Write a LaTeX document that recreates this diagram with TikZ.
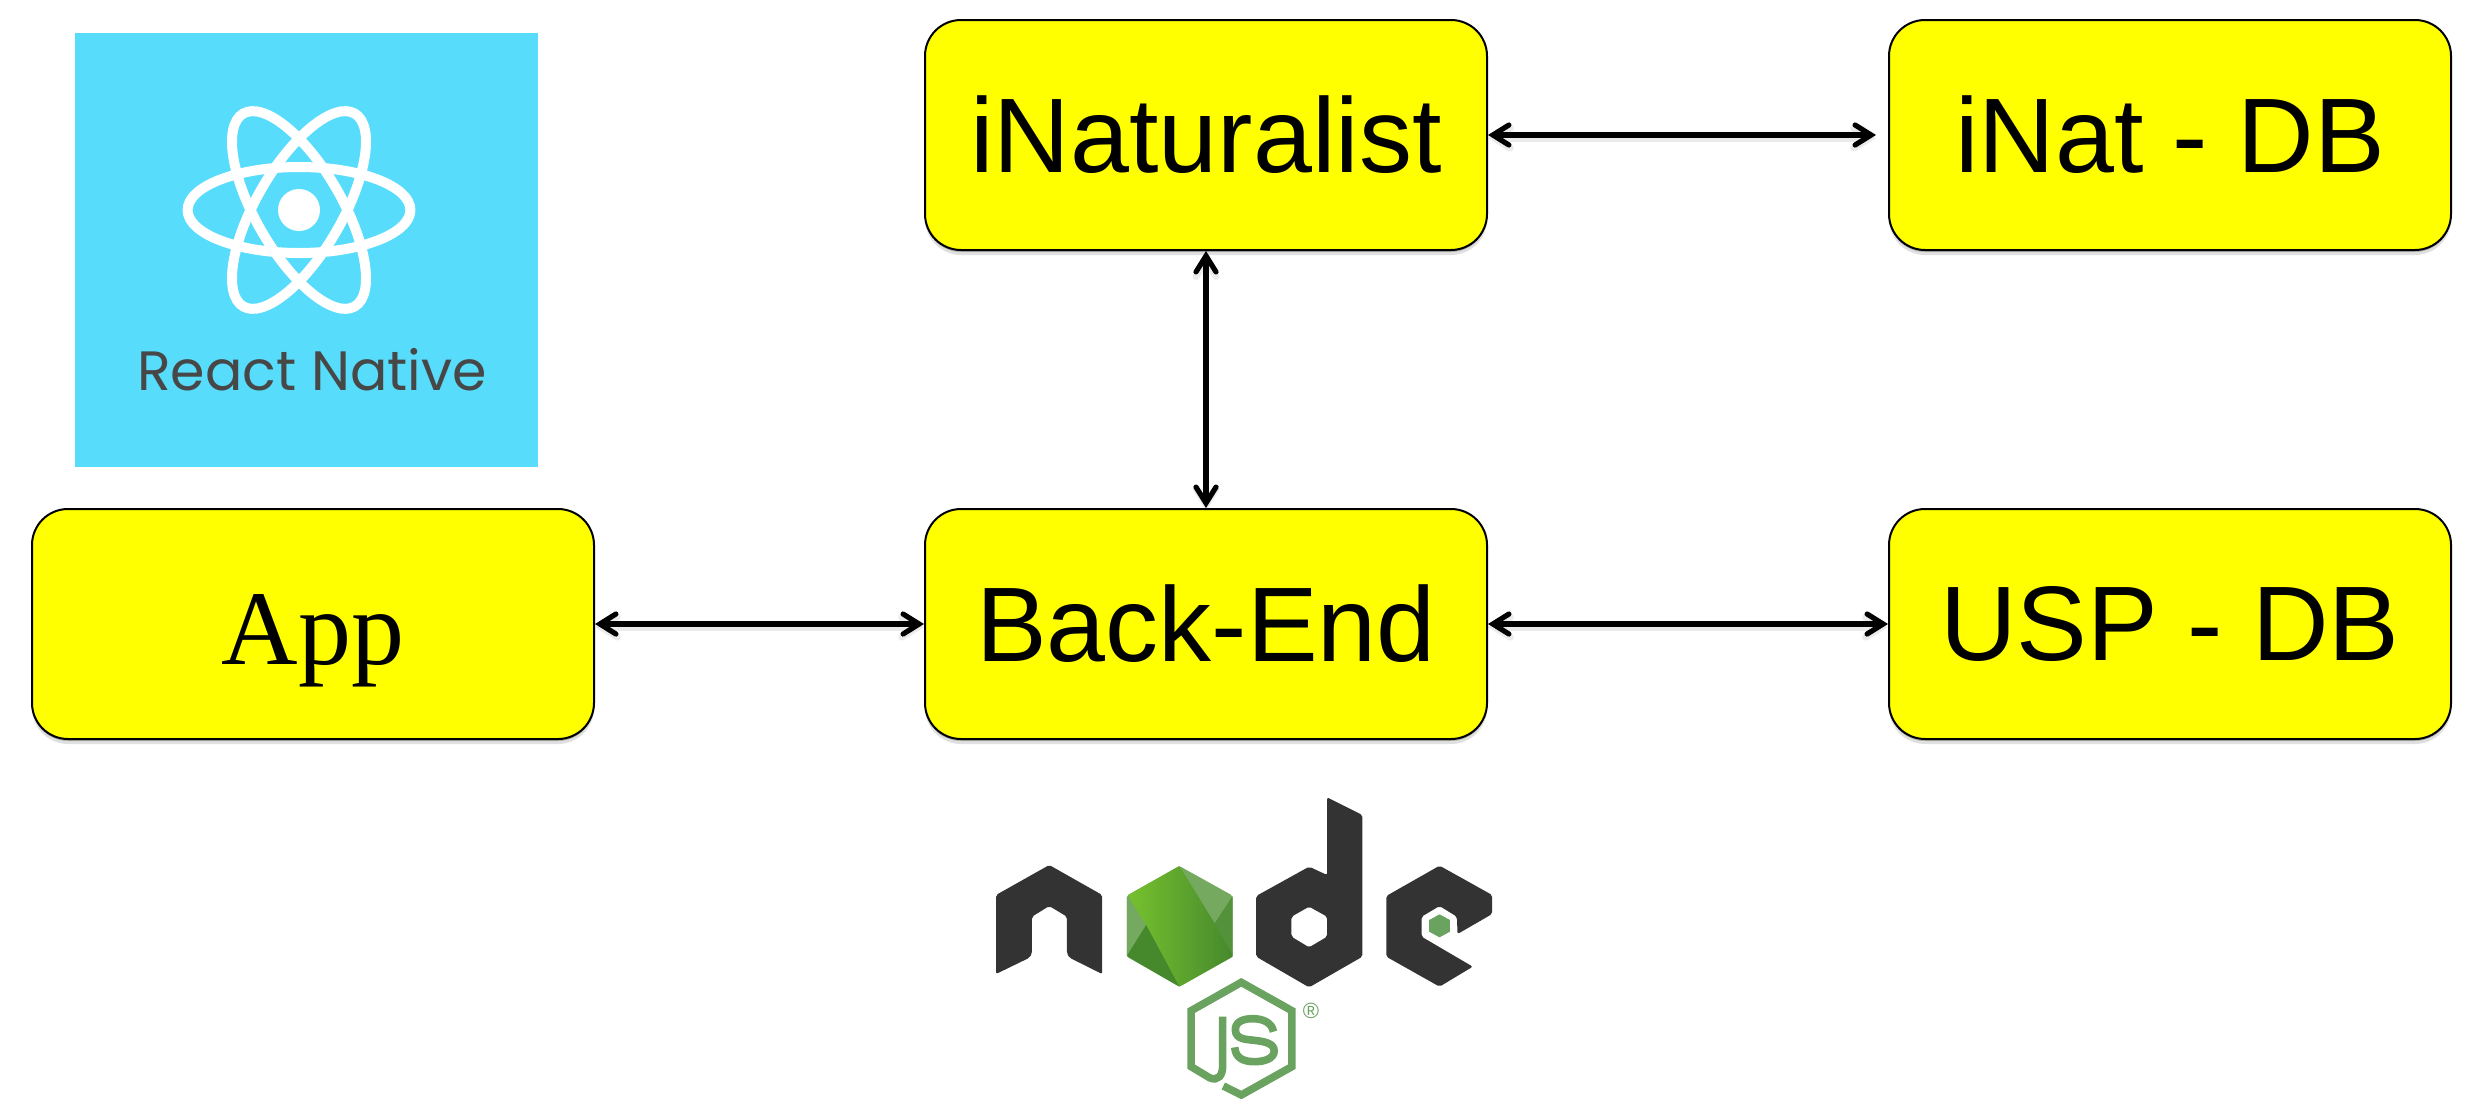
\documentclass[tikz,border=0pt]{standalone}
\usepackage{fontspec}
\setmainfont{Liberation Sans}
\newfontfamily\serifbox{Liberation Serif}
\newfontfamily\reactfont{Poppins}
\usetikzlibrary{arrows.meta,shadows}

\definecolor{boxyellow}{HTML}{FFFF00}
\definecolor{reactblue}{HTML}{57DCFB}
\definecolor{reactgray}{HTML}{474747}
\definecolor{nodedark}{HTML}{333333}
\definecolor{nodegreen}{HTML}{6AA25F}
\definecolor{hexbright}{HTML}{76C12E}
\definecolor{hexmid}{HTML}{78AE5A}
\definecolor{hexdark}{HTML}{46892D}
\definecolor{hexlight}{HTML}{74A95F}
\definecolor{hexright}{HTML}{53913A}

\tikzset{
    boxnode/.style={draw=black, line width=1pt, fill=boxyellow, rounded corners=18pt,
        minimum width=281pt, minimum height=115pt, outer sep=0pt, inner sep=0pt,
        font=\fontsize{53}{60}\selectfont,
        drop shadow={shadow xshift=0pt, shadow yshift=-1pt, opacity=0.22, fill=black},
        drop shadow={shadow xshift=0pt, shadow yshift=-2.5pt, opacity=0.12, fill=black}},
    linkarrow/.style={{Straight Barb[length=8pt,width=10pt,line cap=round]}-{Straight Barb[length=8pt,width=10pt,line cap=round]},
        line width=2.6pt, black, shorten >=0.5pt, shorten <=0.5pt,
        preaction={draw=black, opacity=0.08, line width=3.4pt, transform canvas={yshift=-1.6pt}},
        preaction={draw=black, opacity=0.18, transform canvas={yshift=-0.8pt}}},
    logopart/.style={fill=nodedark, rounded corners=1pt},
    jsline/.style={draw=nodegreen, line width=3.8pt}
}

\begin{document}
\begin{tikzpicture}[x=0.5pt, y=-0.5pt]
    \useasboundingbox (0,0) rectangle (2483,1098);

    % Cajas
    \node[boxnode] (inat) at (1206,135) {iNaturalist};
    \node[boxnode] (inatdb) at (2170,135) {iNat - DB};
    \node[boxnode, font=\serifbox\fontsize{53}{60}\selectfont, text height=40pt, text depth=0pt] (app) at (313,624) {App};
    \node[boxnode] (backend) at (1206,624) {Back-End};
    \node[boxnode] (uspdb) at (2170,624) {USP - DB};

    % Flechas
    \draw[linkarrow, shorten >=6.5pt] (inat) -- (inatdb);
    \draw[linkarrow] (inat) -- (backend);
    \draw[linkarrow] (app) -- (backend);
    \draw[linkarrow] (backend) -- (uspdb);

    % Logo React Native
    \fill[reactblue] (75,33) rectangle (538,467);
    \foreach \ang in {0,60,-60} {
        \draw[white, line width=5pt] (299,210) ellipse [x radius=55.7pt, y radius=21.5pt, rotate=\ang];
    }
    \fill[white] (299,210) circle [radius=10.5pt];
    \node[text=reactgray, anchor=base, font=\reactfont\fontsize{27.7}{30}\selectfont, inner sep=0pt] (reactlabel) at (312,390) {React Native};

    % Logo Node
    \begin{scope}[shift={(969,770)}, xscale=0.346, yscale=1/3]
        % n
        \fill[logopart] (232,285) -- (385,375) -- (385,612) -- (290,563) -- (283,550) -- (283,440) -- (232,408)
            -- (182,440) -- (182,550) -- (175,563) -- (78,612) -- (78,375) -- cycle;
        % hexagono verde
        \fill[hexlight, rounded corners=1pt] (608,288) -- (762,377) -- (762,560) -- (608,650) -- (456,560) -- (456,377) -- cycle;
        \shade[left color=hexbright, middle color=hexmid, right color=hexdark, shading angle=90] (460,375) -- (608,288) -- (710,460) -- (762,552) -- (762,560) -- (608,650) -- cycle;
        \fill[hexlight] (456,377) -- (512,465) -- (456,555) -- cycle;
        \fill[hexdark] (456,558) -- (512,465) -- (608,650) -- cycle;
        \fill[hexright] (762,378) -- (710,460) -- (762,552) -- cycle;
        % d
        \fill[logopart, even odd rule] (1035,82) -- (1137,135) -- (1137,560) -- (983,652) -- (830,560) -- (830,378)
            -- (983,290) -- (1035,315) -- cycle
            (983,410) -- (1035,440) -- (1035,500) -- (983,532) -- (932,500) -- (932,440) -- cycle;
        % e
        \fill[logopart] (1360,287) -- (1512,375) -- (1512,432) -- (1412,492) -- (1410,440) -- (1360,408)
            -- (1308,440) -- (1308,500) -- (1456,590) -- (1360,650) -- (1206,560) -- (1206,378) -- cycle;
        \fill[nodegreen] (1360,433) -- (1390,450) -- (1390,485) -- (1360,502) -- (1330,485) -- (1330,450) -- cycle;
        % JS
        \draw[jsline] (735,948) -- (787,975) -- (933,890) -- (933,722) -- (787,637) -- (642,722)
            -- (642,890) -- (695,923) .. controls (720,935) and (733,915) .. (733,890) -- (733,740);
        \draw[jsline] (880,785) .. controls (875,755) and (845,746) .. (820,746)
            .. controls (785,746) and (768,760) .. (770,782)
            .. controls (772,808) and (800,808) .. (825,811)
            .. controls (860,815) and (882,822) .. (882,843)
            .. controls (882,865) and (855,875) .. (825,875)
            .. controls (790,875) and (770,862) .. (768,832);
        \node[text=nodegreen, font=\fontsize{11}{12}\selectfont, inner sep=0pt] (regmark) at (988,722) {®};
    \end{scope}
\end{tikzpicture}
\end{document}
